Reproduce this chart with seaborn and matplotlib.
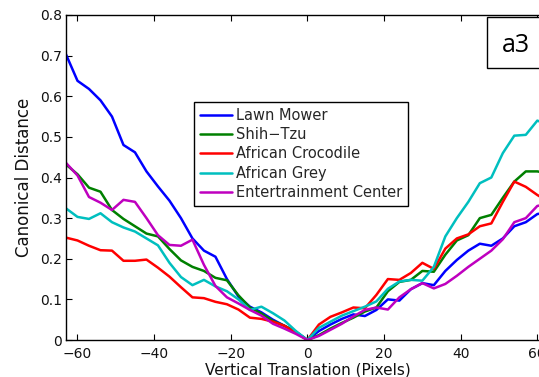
import matplotlib
matplotlib.use("Agg")
import matplotlib.pyplot as plt
from matplotlib.patches import Rectangle
import numpy as np
import pandas as pd
import seaborn as sns

# Vertical shift of the image (pixels)
translation = list(range(-63, 64, 3))

lawn_mower = [0.703, 0.638, 0.618, 0.590, 0.550, 0.480, 0.462, 0.415, 0.378, 0.343,
              0.300, 0.250, 0.220, 0.205, 0.150, 0.107, 0.082, 0.068, 0.050, 0.035,
              0.020, 0.000, 0.022, 0.038, 0.052, 0.063, 0.059, 0.074, 0.100, 0.097,
              0.125, 0.140, 0.135, 0.170, 0.197, 0.220, 0.237, 0.232, 0.250, 0.280,
              0.290, 0.310, 0.315]
shih_tzu = [0.432, 0.408, 0.375, 0.365, 0.320, 0.298, 0.280, 0.262, 0.255, 0.224,
            0.196, 0.180, 0.170, 0.153, 0.147, 0.110, 0.080, 0.065, 0.047, 0.035,
            0.020, 0.000, 0.012, 0.028, 0.042, 0.055, 0.070, 0.080, 0.120, 0.143,
            0.148, 0.170, 0.168, 0.210, 0.245, 0.258, 0.300, 0.308, 0.350, 0.390,
            0.415, 0.415, 0.410]
african_crocodile = [0.252, 0.245, 0.232, 0.221, 0.220, 0.195, 0.195, 0.198, 0.178, 0.156,
                     0.130, 0.105, 0.103, 0.094, 0.088, 0.075, 0.055, 0.052, 0.045, 0.035,
                     0.018, 0.000, 0.038, 0.057, 0.068, 0.080, 0.078, 0.111, 0.150, 0.148,
                     0.165, 0.190, 0.175, 0.225, 0.250, 0.260, 0.280, 0.287, 0.340, 0.390,
                     0.377, 0.357, 0.340]
african_grey = [0.324, 0.303, 0.298, 0.312, 0.290, 0.277, 0.267, 0.250, 0.233, 0.190,
                0.155, 0.135, 0.148, 0.132, 0.120, 0.100, 0.074, 0.082, 0.066, 0.048,
                0.022, 0.000, 0.030, 0.045, 0.060, 0.071, 0.082, 0.095, 0.126, 0.144,
                0.148, 0.146, 0.180, 0.255, 0.300, 0.340, 0.386, 0.400, 0.460, 0.503,
                0.505, 0.540, 0.530]
entertainment_center = [0.436, 0.405, 0.352, 0.338, 0.320, 0.345, 0.340, 0.300, 0.258, 0.234,
                        0.232, 0.247, 0.185, 0.133, 0.105, 0.090, 0.074, 0.060, 0.040, 0.028,
                        0.015, 0.000, 0.010, 0.025, 0.040, 0.058, 0.074, 0.080, 0.075, 0.105,
                        0.125, 0.140, 0.127, 0.138, 0.158, 0.180, 0.200, 0.220, 0.248, 0.290,
                        0.300, 0.330, 0.335]

series_names = ["Lawn Mower", "Shih\u2212Tzu", "African Crocodile", "African Grey",
                "Entertrainment Center"]
series_values = [lawn_mower, shih_tzu, african_crocodile, african_grey, entertainment_center]
series_colors = ["#0000ff", "#008000", "#ff0000", "#00bfbf", "#bf00bf"]

x_ticks = [-60, -40, -20, 0, 20, 40, 60]
x_tick_labels = ["\u221260", "\u221240", "\u221220", "0", "20", "40", "60"]
y_ticks = [0, 0.1, 0.2, 0.3, 0.4, 0.5, 0.6, 0.7, 0.8]
y_tick_labels = ["0", "0.1", "0.2", "0.3", "0.4", "0.5", "0.6", "0.7", "0.8"]

frames = [pd.DataFrame({"translation": translation, "distance": vals, "object": name})
          for name, vals in zip(series_names, series_values)]
df = pd.concat(frames, ignore_index=True)

sns.set_style("ticks")
plt.rcParams["font.family"] = ["DejaVu Sans"]

W, H = 539, 377
fig = plt.figure(figsize=(W / 100, H / 100), dpi=100)
left_px, right_px, top_px, bottom_px = 66, 548.8, 15, 340
ax = fig.add_axes([left_px / W, 1 - bottom_px / H,
                   (right_px - left_px) / W, (bottom_px - top_px) / H])

sns.lineplot(data=df, x="translation", y="distance", hue="object",
             hue_order=series_names, palette=series_colors, linewidth=1.8,
             ax=ax, legend=True)

ax.set_xlim(-63, 63)
ax.set_ylim(0, 0.8)
ax.set_xticks(x_ticks)
ax.set_xticklabels(x_tick_labels)
ax.set_yticks(y_ticks)
ax.set_yticklabels(y_tick_labels)

for side in ["left", "bottom", "top", "right"]:
    ax.spines[side].set_visible(True)
    ax.spines[side].set_color("black")
    ax.spines[side].set_linewidth(1.0)

ax.tick_params(axis="both", direction="in", length=4, width=0.8, color="black",
               labelsize=10, labelcolor="#111111", top=True, right=True)
ax.tick_params(axis="x", pad=5)
ax.tick_params(axis="y", pad=3)

ax.set_xlabel("Vertical Translation (Pixels)", fontsize=11, color="#111111", labelpad=1)
ax.set_ylabel("Canonical Distance", fontsize=12, color="#111111", labelpad=5)

leg = ax.legend(loc="upper left", bbox_to_anchor=(0.265, 0.733), borderaxespad=0,
                fontsize=10.5, frameon=True, fancybox=False, framealpha=1,
                edgecolor="black", handlelength=2.2, handletextpad=0.3,
                labelspacing=0.3, borderpad=0.4)
leg.get_frame().set_linewidth(1.0)
for line in leg.get_lines():
    line.set_linewidth(1.8)

# Panel tag in the upper right corner
fig.add_artist(Rectangle((486.7 / W, 1 - 67.7 / H), 0.2, (67.7 - 17.3) / H,
                         transform=fig.transFigure, facecolor="white",
                         edgecolor="black", linewidth=1.0, zorder=5))
fig.text(501.5 / W, 1 - 46 / H, "a3", fontsize=18, family="Open Sans",
         ha="left", va="center", color="black", zorder=6)

fig.savefig("out.png", dpi=100)
